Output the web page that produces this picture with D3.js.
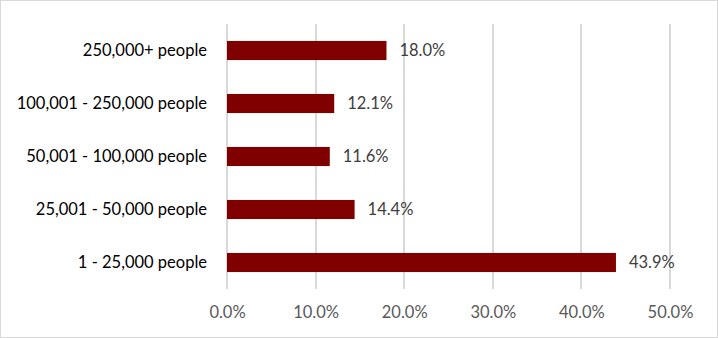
<!DOCTYPE html>
<html>
<head>
<meta charset="utf-8">
<script src="https://cdn.jsdelivr.net/npm/d3@7"></script>
<style>
  body { margin: 0; background: #fff; }
  svg { display: block; font-family: Lato, "Open Sans", sans-serif; }
</style>
</head>
<body>
<svg id="chart"></svg>
<script>
// Дані графіка
const categories = ['250,000+ people', '100,001 - 250,000 people', '50,001 - 100,000 people', '25,001 - 50,000 people', '1 - 25,000 people'];
const values = [18.0, 12.1, 11.6, 14.4, 43.9];
const xTicks = [0, 10, 20, 30, 40, 50];

const width = 718;
const height = 338;
const margin = { top: 24, right: 48, bottom: 49, left: 227 };
const chartWidth = width - margin.left - margin.right;
const chartHeight = height - margin.top - margin.bottom;

const root = d3.select('#chart').attr('width', width).attr('height', height);

// Рамка
root.append('rect')
  .attr('x', 0.5).attr('y', 0.5)
  .attr('width', width - 1).attr('height', height - 1)
  .style('fill', '#fff')
  .style('stroke', '#d9d9d9')
  .style('stroke-width', 1);

const svg = root.append('g').attr('transform', `translate(${margin.left}, ${margin.top})`);

const xScale = d3.scaleLinear().domain([0, 50]).range([0, chartWidth]);
const yScale = d3.scaleBand().domain(categories).range([0, chartHeight]).paddingInner(0.64).paddingOuter(0.32);

// Сітка
svg.append('g')
  .selectAll('.x-grid')
  .data(xTicks)
  .enter()
  .append('line')
  .attr('class', 'x-grid')
  .attr('x1', d => Math.round(xScale(d)))
  .attr('x2', d => Math.round(xScale(d)))
  .attr('y1', 0)
  .attr('y2', chartHeight)
  .style('stroke', '#d9d9d9')
  .style('stroke-width', 2);

// Вісь X
svg.append('g')
  .attr('transform', `translate(0, ${chartHeight})`)
  .call(d3.axisBottom(xScale)
    .tickValues(xTicks)
    .tickSize(0)
    .tickPadding(17)
    .tickFormat(d => d.toFixed(1) + '%'))
  .selectAll('.tick text')
  .style('fill', '#595959')
  .style('font-family', 'Lato, sans-serif')
  .style('font-size', '16.5px');

// Вісь Y
svg.append('g')
  .call(d3.axisLeft(yScale).tickSize(0).tickPadding(20))
  .selectAll('.tick text')
  .style('fill', '#000')
  .style('font-family', 'Lato, sans-serif')
  .style('font-size', '16.5px');

svg.selectAll('.domain').style('stroke', 'none');

// Стовпчики
svg.selectAll('.bar')
  .data(values)
  .enter()
  .append('rect')
  .attr('class', 'bar')
  .attr('x', xScale(0))
  .attr('y', (d, i) => yScale(categories[i]))
  .attr('width', d => xScale(d) - xScale(0))
  .attr('height', yScale.bandwidth())
  .style('fill', '#800000');

// Підписи значень
svg.selectAll('.value-label')
  .data(values)
  .enter()
  .append('text')
  .attr('class', 'value-label')
  .attr('x', d => xScale(d) + 13)
  .attr('y', (d, i) => yScale(categories[i]) + yScale.bandwidth() / 2)
  .attr('dy', '0.35em')
  .style('fill', '#404040')
  .style('font-size', '16.5px')
  .text(d => d.toFixed(1) + '%');
</script>
</body>
</html>
